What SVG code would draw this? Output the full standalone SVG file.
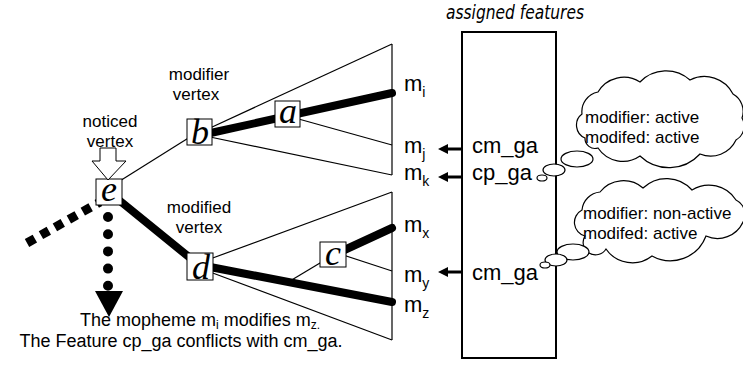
<svg xmlns="http://www.w3.org/2000/svg" width="743" height="369" viewBox="0 0 743 369">
  <defs>
    <style>
      .thin{stroke:#000;stroke-width:1.2;fill:none}
      .thick{stroke:#000;stroke-width:8;stroke-linecap:round;fill:none}
      .box{fill:#fff;stroke:#000;stroke-width:1}
      .vx{font-family:"Liberation Serif","Times New Roman",serif;font-style:italic;font-size:36px;text-anchor:middle}
      .lbl{font-family:"Liberation Sans",Arial,sans-serif;font-size:17px;fill:#000}
      .note{font-family:"Liberation Sans",Arial,sans-serif;font-size:18px;fill:#000;text-anchor:middle}
      .mid{text-anchor:middle}
      .m{font-family:"Liberation Sans",Arial,sans-serif;font-size:22px;fill:#000}
      .cloud{fill:#fff;stroke:#000;stroke-width:1.2}
      .ptr{stroke:#000;stroke-width:3;fill:none}
    </style>
    <marker id="head" markerUnits="userSpaceOnUse" markerWidth="11" markerHeight="10" refX="2" refY="5" orient="auto">
      <path d="M0,0 L10,5 L0,10 z" fill="#000"/>
    </marker>
  </defs>

  <rect width="743" height="369" fill="#fff"/>

  <!-- tree edges -->
  <g id="connectors">
    <!-- incoming dashed edge and dotted continuation -->
    <line x1="27" y1="243" x2="100" y2="202" stroke="#000" stroke-width="9" stroke-dasharray="9 7"/>
    <line x1="108" y1="217" x2="108" y2="286" stroke="#000" stroke-width="10" stroke-linecap="round" stroke-dasharray="0 17.2"/>
    <polygon points="95,291 123,291 109,317" fill="#000"/>

    <line class="thin" x1="115" y1="184" x2="190" y2="137"/>
    <line class="thick" x1="109" y1="192" x2="200" y2="266" stroke-linecap="butt"/>

    <!-- upper fan (modifier vertex) -->
    <line class="thin" x1="210" y1="128" x2="392" y2="44"/>
    <line class="thin" x1="210" y1="137" x2="392" y2="175"/>
    <line class="thin" x1="392" y1="44" x2="392" y2="175"/>
    <line class="thick" x1="206" y1="134" x2="392" y2="93"/>
    <line class="thin" x1="295" y1="118" x2="392" y2="145"/>

    <!-- lower fan (modified vertex) -->
    <line class="thin" x1="210" y1="259" x2="392" y2="192"/>
    <line class="thin" x1="210" y1="272" x2="392" y2="340"/>
    <line class="thin" x1="392" y1="192" x2="392" y2="340"/>
    <line class="thick" x1="205" y1="266" x2="392" y2="302"/>
    <line class="thin" x1="290" y1="281" x2="325" y2="260"/>
    <line class="thick" x1="340" y1="252" x2="392" y2="228"/>
    <line class="thin" x1="340" y1="254" x2="392" y2="271"/>

    <!-- feature pointers -->
    <line class="ptr" x1="463" y1="149" x2="446" y2="149" marker-end="url(#head)"/>
    <line class="ptr" x1="463" y1="177" x2="446" y2="177" marker-end="url(#head)"/>
    <line class="ptr" x1="463" y1="272" x2="446" y2="272" marker-end="url(#head)"/>
  </g>

  <!-- vertices -->
  <g id="node-e">
    <rect class="box" x="96" y="179" width="26" height="26"/>
    <text class="vx" x="109" y="201" font-size="38">e</text>
  </g>
  <g id="node-b">
    <rect class="box" x="187" y="119" width="25" height="26"/>
    <text class="vx" x="200" y="144">b</text>
  </g>
  <g id="node-a">
    <rect class="box" x="275" y="101" width="25" height="26"/>
    <text class="vx" x="288" y="123">a</text>
  </g>
  <g id="node-d">
    <rect class="box" x="187" y="253" width="26" height="27"/>
    <text class="vx" x="201" y="279">d</text>
  </g>
  <g id="node-c">
    <rect class="box" x="320" y="242" width="26" height="25"/>
    <text class="vx" x="333" y="265">c</text>
  </g>

  <!-- vertex captions -->
  <g id="captions">
    <polygon points="100,148 116,148 116,161 126,161 108,180 92,161 100,161" fill="#fff" stroke="#000" stroke-width="1"/>
    <text class="lbl mid" x="110" y="127">noticed</text>
    <text class="lbl mid" x="110" y="147">vertex</text>
    <text class="lbl mid" x="199" y="80">modifier</text>
    <text class="lbl mid" x="196" y="100">vertex</text>
    <text class="lbl mid" x="199" y="213">modified</text>
    <text class="lbl mid" x="199" y="233">vertex</text>
  </g>

  <!-- morpheme labels -->
  <g id="morphemes">
    <text class="m" x="404" y="91">m<tspan font-size="14" dy="6">i</tspan></text>
    <text class="m" x="404" y="153">m<tspan font-size="14" dy="6">j</tspan></text>
    <text class="m" x="404" y="180">m<tspan font-size="14" dy="6">k</tspan></text>
    <text class="m" x="404" y="232">m<tspan font-size="14" dy="6">x</tspan></text>
    <text class="m" x="404" y="282">m<tspan font-size="14" dy="6">y</tspan></text>
    <text class="m" x="404" y="312">m<tspan font-size="14" dy="6">z</tspan></text>
  </g>

  <!-- feature column -->
  <g id="features">
    <text x="446" y="19" font-family="'Liberation Sans Narrow','DejaVu Sans Condensed','Liberation Sans',sans-serif" font-style="italic" font-size="19" textLength="138" lengthAdjust="spacingAndGlyphs">assigned features</text>
    <rect x="462" y="32" width="94" height="326" fill="none" stroke="#000" stroke-width="2"/>
    <text class="m" x="472" y="153">cm_ga</text>
    <text class="m" x="472" y="180">cp_ga</text>
    <text class="m" x="472" y="280">cm_ga</text>
  </g>

  <!-- thought clouds -->
  <g id="cloud-1">
    <path class="cloud" d="M582,114 A20,20 0 0 1 598,92 A30,30 0 0 1 640,82 A36,36 0 0 1 690,80 A32,32 0 0 1 733,94 A20,20 0 0 1 742,118 A16,16 0 0 1 736,140 A28,28 0 0 1 700,154 A42,42 0 0 1 640,156 A30,30 0 0 1 598,148 A10,10 0 0 1 585,138 A14,14 0 0 1 582,114 Z"/>
    <ellipse class="cloud" cx="577" cy="159" rx="16" ry="8"/>
    <ellipse class="cloud" cx="554" cy="170" rx="11" ry="6"/>
    <ellipse class="cloud" cx="542" cy="178" rx="5" ry="3"/>
    <text class="lbl" x="585" y="123">modifier: active</text>
    <text class="lbl" x="585" y="143">modifed: active</text>
  </g>
  <g id="cloud-2">
    <path class="cloud" d="M582,210 A20,20 0 0 1 600,192 A30,30 0 0 1 643,188 A34,34 0 0 1 692,190 A32,32 0 0 1 736,200 A16,16 0 0 1 743,222 A28,28 0 0 1 706,236 A38,38 0 0 1 652,256 A32,32 0 0 1 606,249 A12,12 0 0 1 585,236 A14,14 0 0 1 582,210 Z"/>
    <ellipse class="cloud" cx="573" cy="252" rx="16" ry="8"/>
    <ellipse class="cloud" cx="556" cy="260" rx="11" ry="6"/>
    <ellipse class="cloud" cx="545" cy="265" rx="5" ry="3"/>
    <text class="lbl" x="583" y="219">modifier: non-active</text>
    <text class="lbl" x="583" y="239">modifed: active</text>
  </g>

  <!-- caption -->
  <g id="note">
    <text class="note" x="200" y="326">The mopheme m<tspan font-size="12" dy="3">i</tspan><tspan dy="-3"> modifies m</tspan><tspan font-size="12" dy="3">z.</tspan></text>
    <text class="note" x="181" y="347">The Feature cp_ga conflicts with cm_ga.</text>
  </g>
</svg>
